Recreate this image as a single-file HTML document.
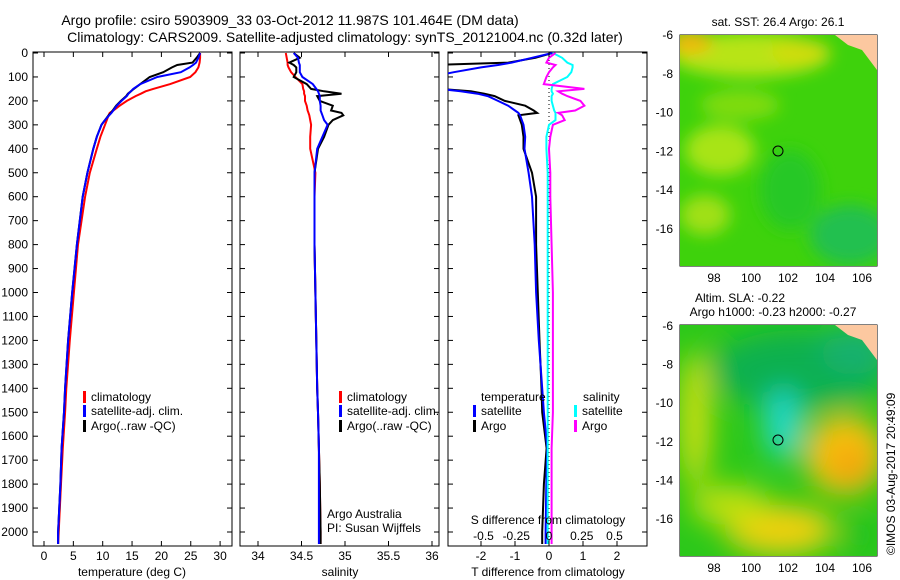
<!DOCTYPE html>
<html><head><meta charset="utf-8"><style>
body{margin:0;background:#fff;}
svg{display:block;font-family:"Liberation Sans",sans-serif;}
text{font-size:12px;fill:#000;}
</style></head><body>
<svg id="c" width="900" height="580" viewBox="0 0 900 580">
<defs>
<filter id="bl" x="-50%" y="-50%" width="200%" height="200%"><feGaussianBlur stdDeviation="8"/></filter>
<filter id="bl2" x="-50%" y="-50%" width="200%" height="200%"><feGaussianBlur stdDeviation="14"/></filter>
<clipPath id="cm1"><rect x="680" y="35" width="197" height="231"/></clipPath>
<clipPath id="cm2"><rect x="680" y="325" width="197" height="231"/></clipPath>
<clipPath id="cp3"><rect x="448" y="52" width="199" height="494"/></clipPath>
</defs>
<text x="290" y="25" text-anchor="middle" style="font-size:14px">Argo profile: csiro 5903909_33 03-Oct-2012 11.987S 101.464E (DM data)</text>
<text x="345" y="42" text-anchor="middle" style="font-size:14px">Climatology: CARS2009. Satellite-adjusted climatology: synTS_20121004.nc (0.32d later)</text>
<g id="g"></g>
<g clip-path="url(#cm1)">
<rect x="680" y="35" width="197" height="231" fill="#3ed20c"/>
<g filter="url(#bl)">
<ellipse cx="750" cy="55" rx="80" ry="22" fill="#b8e412"/>
<ellipse cx="690" cy="42" rx="22" ry="12" fill="#f0b810"/>
<ellipse cx="800" cy="52" rx="30" ry="12" fill="#d0dc10"/>
<ellipse cx="720" cy="150" rx="35" ry="25" fill="#a8e414"/>
<ellipse cx="705" cy="215" rx="25" ry="20" fill="#a0e014"/>
<ellipse cx="740" cy="105" rx="40" ry="15" fill="#80dc10"/>
<ellipse cx="850" cy="235" rx="40" ry="30" fill="#20c050"/>
<ellipse cx="790" cy="190" rx="30" ry="40" fill="#28c828"/>
</g>
<polygon points="835,35 877,35 877,70 862,50 848,45" fill="#fcc8a0"/>
</g>
<g clip-path="url(#cm2)">
<rect x="680" y="325" width="197" height="231" fill="#2cc81a"/>
<g filter="url(#bl2)">
<ellipse cx="800" cy="370" rx="90" ry="40" fill="#10b050"/>
<ellipse cx="855" cy="350" rx="35" ry="25" fill="#18b070"/>
<ellipse cx="695" cy="420" rx="15" ry="70" fill="#d8e010"/>
<ellipse cx="845" cy="455" rx="40" ry="40" fill="#f8c008"/>
<ellipse cx="850" cy="465" rx="18" ry="18" fill="#f0a010"/>
<ellipse cx="780" cy="530" rx="55" ry="25" fill="#f0d010"/>
<ellipse cx="730" cy="505" rx="40" ry="20" fill="#c0e010"/>
<ellipse cx="783" cy="425" rx="18" ry="35" fill="#20d8d0"/>
<ellipse cx="860" cy="535" rx="15" ry="15" fill="#20c020"/>
</g>
<polygon points="835,325 877,325 877,360 862,340 848,335" fill="#fcc8a0"/>
</g>
<circle cx="778" cy="151" r="5" fill="none" stroke="#000"/>
<circle cx="778" cy="440" r="5" fill="none" stroke="#000"/>
<text x="778" y="26" text-anchor="middle">sat. SST: 26.4 Argo: 26.1</text>
<text x="740" y="302" text-anchor="middle">Altim. SLA: -0.22</text>
<text x="773" y="316" text-anchor="middle">Argo h1000: -0.23 h2000: -0.27</text>
<text transform="translate(895,555) rotate(-90)">©IMOS 03-Aug-2017 20:49:09</text>
</svg>
<script>
const depths=[0,20,40,50,60,80,100,130,150,160,170,180,200,220,240,250,260,280,300,350,400,500,600,800,1000,1200,1400,1500,1650,1800,2000,2050];
const tempClim=[26.6,26.6,26.5,26.4,26.3,25.8,24.9,21.5,18.6,17.3,16.5,15.6,14.1,12.9,11.8,11.2,11.0,10.7,10.4,9.6,9.0,7.8,7.0,5.8,5.1,4.4,3.8,3.6,3.2,2.9,2.5,2.4];
const tempSat=[26.6,26.3,25.9,25.4,24.8,23.3,19.3,16.4,15.2,14.8,14.4,14.1,13.2,12.4,11.8,11.5,11.1,10.4,9.8,9.0,8.4,7.4,6.6,5.6,4.8,4.1,3.6,3.4,3.0,2.8,2.4,2.4];
const tempArgo=[26.6,26.0,25.3,22.7,21.8,20.3,18.0,16.4,15.3,14.8,14.3,14.0,13.1,12.3,11.7,11.4,11.0,10.4,9.8,9.0,8.4,7.4,6.6,5.6,4.8,4.1,3.6,3.4,3.0,2.8,2.4,2.4];
const salClim=[34.32,34.33,34.34,34.34,34.35,34.38,34.43,34.51,34.52,34.53,34.53,34.54,34.54,34.56,34.57,34.58,34.59,34.6,34.61,34.6,34.6,34.66,34.65,34.65,34.66,34.67,34.68,34.69,34.7,34.71,34.72,34.72];
const salSat=[34.41,34.46,34.47,34.48,34.48,34.48,34.51,34.63,34.67,34.69,34.7,34.71,34.71,34.72,34.72,34.73,34.74,34.76,34.8,34.74,34.68,34.65,34.65,34.65,34.66,34.67,34.68,34.69,34.7,34.7,34.7,34.7];
const salArgo=[34.41,34.48,34.36,34.41,34.44,34.44,34.41,34.56,34.61,34.76,34.96,34.68,34.71,34.86,34.84,34.96,34.98,34.86,34.81,34.76,34.69,34.65,34.65,34.65,34.66,34.67,34.68,34.69,34.7,34.71,34.72,34.72];
const tdiffSat=[0.1,-0.5,-1.1,-1.5,-2,-2.8,-3.5,-3.5,-3.2,-2.6,-2.1,-1.8,-1.5,-1.2,-1.0,-0.9,-0.85,-0.8,-0.75,-0.7,-0.72,-0.6,-0.5,-0.42,-0.38,-0.3,-0.2,-0.15,-0.05,-0.08,-0.1,-0.1];
const tdiffArgo=[0.1,-0.4,-1.2,-3.5,-3.5,-3.5,-3.5,-3.5,-3.2,-2.3,-1.9,-1.6,-1.3,-0.7,-0.45,-0.35,-0.9,-0.85,-0.8,-0.75,-0.75,-0.5,-0.38,-0.38,-0.33,-0.28,-0.22,-0.2,-0.07,-0.15,-0.2,-0.2];
const sdiffSat=[0.03,0.1,0.14,0.18,0.18,0.17,0.14,0.03,0.02,0.02,0.03,0.02,0.02,0.03,0.04,0.05,0.05,0.05,0,-0.02,-0.02,-0.01,-0.01,-0.01,-0.01,-0.01,-0.01,-0.01,-0.01,-0.01,-0.01,-0.01];
const sdiffArgo=[0.05,0,-0.02,0.05,0.03,0,-0.02,-0.04,0.27,0.07,0.1,0.14,0.24,0.27,0.2,0.07,0.1,0.12,0.03,0.01,0,0.01,0.01,0.02,0.03,0.03,0.03,0.03,0.02,0.02,0.02,0.02];
const depthTicks=[0,100,200,300,400,500,600,700,800,900,1000,1100,1200,1300,1400,1500,1600,1700,1800,1900,2000];
const tempTicks=[0,5,10,15,20,25,30];
const salTicks=[34,34.5,35,35.5,36];
const tdTicks=[-2,-1,0,1,2];
const sdTicks=[-0.5,-0.25,0,0.25,0.5];
const mapLonTicks=[98,100,102,104,106];
const mapLatTicks=[-6,-8,-10,-12,-14,-16];

const NS="http://www.w3.org/2000/svg";
const G=document.getElementById('g');
function mk(t,a,p){const e=document.createElementNS(NS,t);for(const k in a)e.setAttribute(k,a[k]);(p||G).appendChild(e);return e;}
const yD=d=>53+d*0.2395;
const xT=v=>44+v*5.87;
const xS=v=>258+(v-34)*87;
const xTD=v=>549+v*34;
const xSD=v=>549+v*131;
const mapX=v=>714+(v-98)*18.5;
const mapY1=v=>35+(-6-v)*19.4;
const mapY2=v=>326+(-6-v)*19.3;

function line(xs,xf,col,name,w,clip){
  const pts=depths.map((d,i)=>xf(xs[i]).toFixed(1)+','+yD(d).toFixed(1)).join(' ');
  const e=mk('polyline',{points:pts,fill:'none',stroke:col,'stroke-width':w||2});
  
  
  if(clip)e.setAttribute('clip-path',clip);
}
function panel(x0,name){
  const r=mk('rect',{x:x0,y:52,width:199,height:494,fill:'none',stroke:'#000'});
  
  
  depthTicks.forEach(d=>{mk('line',{x1:x0,x2:x0+5,y1:yD(d),y2:yD(d),stroke:'#000'});mk('line',{x1:x0+199,x2:x0+194,y1:yD(d),y2:yD(d),stroke:'#000'});});
}
function xticks(ticks,f,y){
  ticks.forEach(v=>{const x=f(v);mk('line',{x1:x,x2:x,y1:546,y2:541,stroke:'#000'});mk('line',{x1:x,x2:x,y1:52,y2:57,stroke:'#000'});
    const t=mk('text',{x:x,y:y,'text-anchor':'middle'});t.textContent=String(v);
    
    });
}
function label(x,y,s,name,anchor){const t=mk('text',{x:x,y:y,'text-anchor':anchor||'start'});t.textContent=s;
  
  return t;}
function legBar(x,y,col){const e=mk('rect',{x:x,y:y-10,width:3,height:12,fill:col});
  
  }

depthTicks.forEach(d=>{const t=mk('text',{x:28,y:yD(d)+4,'text-anchor':'end'});t.textContent=d;
  
  });

panel(33,'temperature-panel');
line(tempClim,xT,'#f00','temperature-climatology-line');
line(tempArgo,xT,'#000','temperature-argo-line');
line(tempSat,xT,'#00f','temperature-satellite-line');
xticks(tempTicks,xT,560);
label(132,576,'temperature (deg C)','temperature-axis-title','middle');
legBar(83,401,'#f00');label(91,401,'climatology','legend-climatology');
legBar(83,415,'#00f');label(91,415,'satellite-adj. clim.','legend-satellite');
legBar(83,430,'#000');label(91,430,'Argo(..raw -QC)','legend-argo');

panel(240,'salinity-panel');
line(salClim,xS,'#f00','salinity-climatology-line');
line(salArgo,xS,'#000','salinity-argo-line');
line(salSat,xS,'#00f','salinity-satellite-line');
xticks(salTicks,xS,560);
label(340,576,'salinity','salinity-axis-title','middle');
legBar(339,401,'#f00');label(347,401,'climatology','legend-climatology-2');
legBar(339,415,'#00f');label(347,415,'satellite-adj. clim.','legend-satellite-2');
legBar(339,430,'#000');label(347,430,'Argo(..raw -QC)','legend-argo-2');
label(327,518,'Argo Australia','credit-line-1');
label(327,532,'PI: Susan Wijffels','credit-line-2');

panel(448,'difference-panel');
mk('line',{x1:549,x2:549,y1:52,y2:546,stroke:'#000','stroke-dasharray':'1,3'});
line(tdiffArgo,xTD,'#000','tdiff-argo-line',2,'url(#cp3)');
line(tdiffSat,xTD,'#00f','tdiff-satellite-line',2,'url(#cp3)');
line(sdiffSat,xSD,'#0ff','sdiff-satellite-line',2,'url(#cp3)');
line(sdiffArgo,xSD,'#f0f','sdiff-argo-line',2,'url(#cp3)');
xticks(tdTicks,xTD,560);
sdTicks.forEach(v=>{const t=mk('text',{x:xSD(v),y:540,'text-anchor':'middle'});t.textContent=String(v);
  
  });
label(548,524,'S difference from climatology','sdiff-axis-title','middle');
label(548,576,'T difference from climatology','tdiff-axis-title','middle');
label(481,401,'temperature','legend-temperature-heading');
label(583,401,'salinity','legend-salinity-heading');
legBar(473,415,'#00f');label(481,415,'satellite','legend-t-satellite');
legBar(473,430,'#000');label(481,430,'Argo','legend-t-argo');
legBar(574,415,'#0ff');label(582,415,'satellite','legend-s-satellite');
legBar(574,430,'#f0f');label(582,430,'Argo','legend-s-argo');

function mapAxes(y0,yf,name){
  const r=mk('rect',{x:680,y:y0,width:197,height:231,fill:'none',stroke:'#000'});
  
  
  mapLonTicks.forEach(v=>{const x=mapX(v);mk('line',{x1:x,x2:x,y1:y0+231,y2:y0+226,stroke:'#000'});
    const t=mk('text',{x:x,y:y0+247,'text-anchor':'middle'});t.textContent=v;
    
    });
  mapLatTicks.forEach(v=>{const y=yf(v);mk('line',{x1:877,x2:872,y1:y,y2:y,stroke:'#000'});
    const t=mk('text',{x:673,y:y+4,'text-anchor':'end'});t.textContent=v;
    
    });
}
mapAxes(35,mapY1,'sst-map-frame');
mapAxes(325,mapY2,'sla-map-frame');
</script>
</body></html>
